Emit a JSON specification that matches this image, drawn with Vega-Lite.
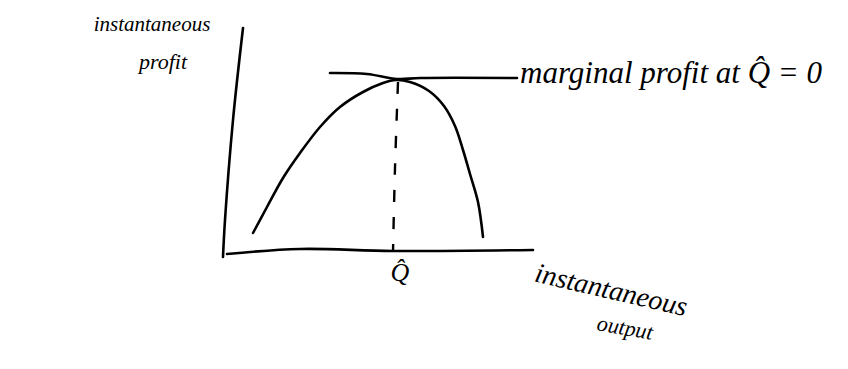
{
  "$schema": "https://vega.github.io/schema/vega-lite/v6.json",
  "width": 848,
  "height": 369,
  "autosize": {"type": "fit", "contains": "padding"},
  "padding": 0,
  "background": "white",
  "config": {"view": {"stroke": null}},
  "datasets": {
    "strokes": [
      {"part": "profit", "i": 0, "q": 1.3, "p": 1.05},
      {"part": "profit", "i": 1, "q": 2.0, "p": 2.35},
      {"part": "profit", "i": 2, "q": 2.8, "p": 3.8},
      {"part": "profit", "i": 3, "q": 3.65, "p": 5.05},
      {"part": "profit", "i": 4, "q": 4.65, "p": 6.35},
      {"part": "profit", "i": 5, "q": 5.65, "p": 7.35},
      {"part": "profit", "i": 6, "q": 6.8, "p": 8.1},
      {"part": "profit", "i": 7, "q": 7.8, "p": 8.55},
      {"part": "profit", "i": 8, "q": 8.45, "p": 8.7},
      {"part": "profit", "i": 9, "q": 9.15, "p": 8.6},
      {"part": "profit", "i": 10, "q": 10.1, "p": 8.15},
      {"part": "profit", "i": 11, "q": 10.85, "p": 7.4},
      {"part": "profit", "i": 12, "q": 11.4, "p": 6.4},
      {"part": "profit", "i": 13, "q": 11.8, "p": 5.2},
      {"part": "profit", "i": 14, "q": 12.15, "p": 4.0},
      {"part": "profit", "i": 15, "q": 12.55, "p": 2.6},
      {"part": "profit", "i": 16, "q": 12.8, "p": 0.85},
      {"part": "tangent", "i": 0, "q": 5.15, "p": 9.05},
      {"part": "tangent", "i": 1, "q": 7.0, "p": 9.0},
      {"part": "tangent", "i": 2, "q": 8.5, "p": 8.75},
      {"part": "tangent", "i": 3, "q": 9.65, "p": 8.8},
      {"part": "tangent", "i": 4, "q": 14.5, "p": 8.8},
      {"part": "yaxis", "i": 0, "q": 0.8, "p": 11.3},
      {"part": "yaxis", "i": 1, "q": 0.3, "p": 6.7},
      {"part": "yaxis", "i": 2, "q": -0.1, "p": 1.7},
      {"part": "yaxis", "i": 3, "q": -0.2, "p": -0.15},
      {"part": "xaxis", "i": 0, "q": 0.0, "p": 0.0},
      {"part": "xaxis", "i": 1, "q": 3.65, "p": 0.25},
      {"part": "xaxis", "i": 2, "q": 8.3, "p": 0.15},
      {"part": "xaxis", "i": 3, "q": 15.3, "p": 0.2},
      {"part": "drop", "i": 0, "q": 8.55, "p": 8.6},
      {"part": "drop", "i": 1, "q": 8.4, "p": 4.3},
      {"part": "drop", "i": 2, "q": 8.3, "p": 0.1}
    ],
    "labels": [
      {"text": "instantaneous", "q": -3.75, "p": 11.45, "angle": 0, "size": 21},
      {"text": "profit", "q": -3.2, "p": 9.6, "angle": 0, "size": 22},
      {"text": "Q̂", "q": 8.65, "p": -0.95, "angle": 0, "size": 26},
      {"text": "instantaneous", "q": 19.2, "p": -1.85, "angle": 13, "size": 28},
      {"text": "output", "q": 19.9, "p": -3.7, "angle": 10, "size": 22}
    ],
    "notes": [
      {"text": "marginal profit at Q̂ = 0", "q": 14.65, "p": 9.0}
    ]
  },
  "encoding": {
    "x": {"field": "q", "type": "quantitative", "scale": {"domain": [-11.35, 31.05], "nice": false, "zero": false}, "axis": null},
    "y": {"field": "p", "type": "quantitative", "scale": {"domain": [-5.75, 12.7], "nice": false, "zero": false}, "axis": null}
  },
  "layer": [
    {
      "data": {"name": "strokes"},
      "transform": [{"filter": "datum.part !== 'drop'"}],
      "mark": {"type": "line", "color": "black", "strokeWidth": 2.6, "strokeCap": "round", "strokeJoin": "round", "interpolate": "catmull-rom"},
      "encoding": {
        "detail": {"field": "part"},
        "order": {"field": "i", "type": "quantitative"}
      }
    },
    {
      "data": {"name": "strokes"},
      "transform": [{"filter": "datum.part === 'drop'"}],
      "mark": {"type": "line", "color": "black", "strokeWidth": 2.4, "strokeDash": [12, 15], "interpolate": "catmull-rom"},
      "encoding": {
        "order": {"field": "i", "type": "quantitative"}
      }
    },
    {
      "data": {"name": "labels"},
      "mark": {"type": "text", "font": "Liberation Serif", "fontStyle": "italic", "align": "center", "baseline": "middle", "color": "black"},
      "encoding": {
        "text": {"field": "text"},
        "angle": {"field": "angle", "type": "quantitative", "scale": null},
        "size": {"field": "size", "type": "quantitative", "scale": null}
      }
    },
    {
      "data": {"name": "notes"},
      "mark": {"type": "text", "font": "Liberation Serif", "fontStyle": "italic", "fontSize": 31, "align": "left", "baseline": "middle", "color": "black"},
      "encoding": {
        "text": {"field": "text"}
      }
    }
  ]
}
